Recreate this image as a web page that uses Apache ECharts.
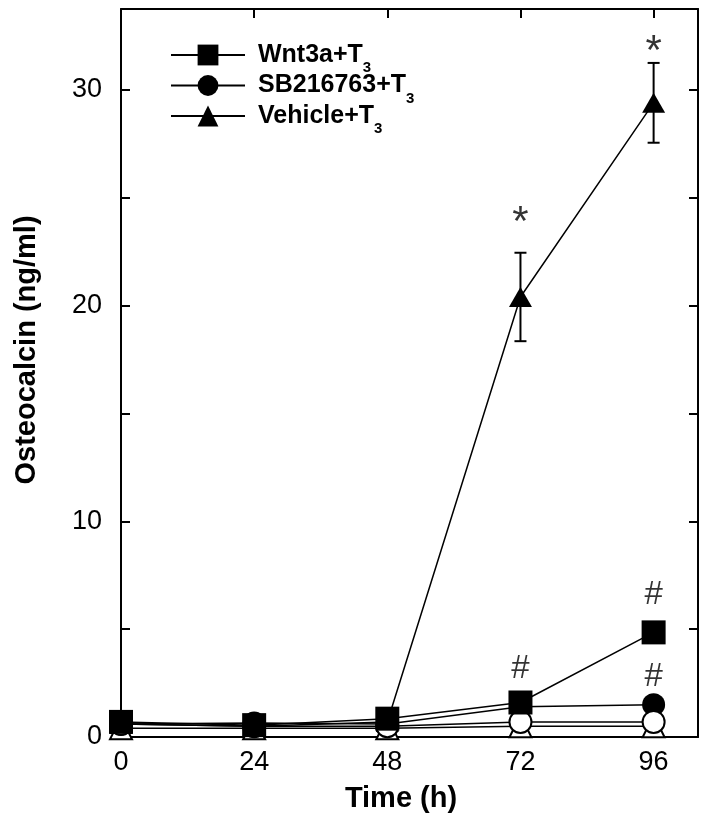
<!DOCTYPE html>
<html>
<head>
<meta charset="utf-8">
<script src="https://cdn.jsdelivr.net/npm/echarts@6/dist/echarts.min.js"></script>
<style>
html,body{margin:0;padding:0;background:#fff;}
#chart{width:708px;height:825px;}
</style>
</head>
<body>
<div id="chart"></div>
<script>
// ---- data ----
const times = [0, 24, 48, 72, 96];
const xTicks = [0, 24, 48, 72, 96];
const yTicks = [0, 10, 20, 30];
const seriesNames = ['Wnt3a+T3', 'SB216763+T3', 'Vehicle+T3'];
const wnt3aT3 = [0.7, 0.55, 0.85, 1.6, 4.85];
const sbT3 = [0.6, 0.65, 0.6, 1.4, 1.5];
const vehicleT3 = [0.6, 0.5, 0.7, 20.4, 29.4];
const vehicleT3Err = [0, 0, 0, 2.05, 1.85];
const openCircle = [0.6, 0.5, 0.5, 0.7, 0.7];
const openTriangle = [0.4, 0.4, 0.4, 0.5, 0.5];
const sigX = [72, 96, 72, 96, 96];
const sigY = [23.8, 31.75, 3.15, 6.57, 2.78];
const sigText = ['*', '*', '#', '#', '#'];

const FONT = 'Liberation Sans, Arial, sans-serif';
const pairs = arr => times.map((t, i) => [t, arr[i]]);

const chart = echarts.init(document.getElementById('chart'));

const axisCommon = {
  type: 'value',
  axisLine: { show: true, onZero: false, lineStyle: { color: '#000', width: 2 } },
  axisTick: { show: true, inside: true, length: 9, lineStyle: { color: '#000', width: 2 } },
  splitLine: { show: false }
};

const option = {
  backgroundColor: '#fff',
  animation: false,
  grid: { left: 121, right: 10, top: 9, bottom: 88 },
  legend: {
    data: seriesNames,
    orient: 'vertical',
    left: 170,
    top: 34.5,
    padding: 0,
    itemGap: -10.5,
    itemWidth: 74,
    itemHeight: 26,
    lineStyle: { width: 2 },
    formatter: name => '{a|' + name.slice(0, -1) + '}{s|' + name.slice(-1) + '}',
    textStyle: {
      color: '#000',
      fontFamily: FONT,
      fontWeight: 'bold',
      fontSize: 25,
      rich: {
        a: { fontFamily: FONT, fontWeight: 'bold', fontSize: 25, lineHeight: 37, color: '#000', padding: [0, 0, 0, 8] },
        s: { fontFamily: FONT, fontWeight: 'bold', fontSize: 15, lineHeight: 11, color: '#000', padding: [26, 0, 0, 0] }
      }
    }
  },
  xAxis: [
    Object.assign({}, axisCommon, {
      min: 0, max: 104, interval: 24, position: 'bottom',
      name: 'Time (h)', nameLocation: 'middle', nameGap: 47,
      nameTextStyle: { fontFamily: FONT, fontWeight: 'bold', fontSize: 29, color: '#000', padding: [0, 17, 0, 0] },
      axisLabel: {
        show: true, margin: 12, color: '#000', fontFamily: FONT, fontSize: 27,
        showMaxLabel: false,
        formatter: v => xTicks.includes(v) ? String(v) : ''
      }
    }),
    Object.assign({}, axisCommon, {
      min: 0, max: 104, interval: 24, position: 'top',
      axisLabel: { show: false }
    })
  ],
  yAxis: [
    Object.assign({}, axisCommon, {
      min: 0, max: 33.75, interval: 5, position: 'left',
      name: 'Osteocalcin (ng/ml)', nameLocation: 'middle', nameGap: 80,
      nameTextStyle: { fontFamily: FONT, fontWeight: 'bold', fontSize: 29, color: '#000', padding: [0, 0, 0, 46] },
      axisLabel: {
        show: true, margin: 19, color: '#000', fontFamily: FONT, fontSize: 27,
        showMaxLabel: false,
        formatter: v => yTicks.includes(v) ? String(v) : ''
      }
    }),
    Object.assign({}, axisCommon, {
      min: 0, max: 33.75, interval: 5, position: 'right',
      axisLabel: { show: false }
    })
  ],
  series: [
    {
      type: 'custom',
      name: 'errVehicle',
      clip: false,
      renderItem: function (params, api) {
        const x = api.value(0), y = api.value(1), e = api.value(2);
        const top = api.coord([x, y + e]);
        const bot = api.coord([x, y - e]);
        const cap = 6;
        const st = { stroke: '#000', lineWidth: 2 };
        return {
          type: 'group',
          children: [
            { type: 'line', shape: { x1: top[0], y1: top[1], x2: bot[0], y2: bot[1] }, style: st },
            { type: 'line', shape: { x1: top[0] - cap, y1: top[1], x2: top[0] + cap, y2: top[1] }, style: st },
            { type: 'line', shape: { x1: bot[0] - cap, y1: bot[1], x2: bot[0] + cap, y2: bot[1] }, style: st }
          ]
        };
      },
      data: times.map((t, i) => [t, vehicleT3[i], vehicleT3Err[i]]).filter(d => d[2] > 0)
    },
    {
      type: 'line', name: 'Vehicle+T3', data: pairs(vehicleT3), clip: false,
      symbol: 'triangle', symbolSize: [23, 20],
      lineStyle: { color: '#000', width: 1.5 },
      itemStyle: { color: '#000', borderWidth: 0 }
    },
    {
      type: 'line', name: 'Vehicle', data: pairs(openTriangle), clip: false,
      symbol: 'triangle', symbolSize: [22, 22],
      lineStyle: { color: '#000', width: 1.5 },
      itemStyle: { color: '#fff', borderColor: '#000', borderWidth: 2 }
    },
    {
      type: 'line', name: 'SB216763+T3', data: pairs(sbT3), clip: false,
      symbol: 'circle', symbolSize: 23,
      lineStyle: { color: '#000', width: 1.5 },
      itemStyle: { color: '#000', borderWidth: 0 }
    },
    {
      type: 'line', name: 'SB216763', data: pairs(openCircle), clip: false,
      symbol: 'circle', symbolSize: 22,
      lineStyle: { color: '#000', width: 1.5 },
      itemStyle: { color: '#fff', borderColor: '#000', borderWidth: 2 }
    },
    {
      type: 'line', name: 'Wnt3a+T3', data: pairs(wnt3aT3), clip: false,
      symbol: 'rect', symbolSize: 24,
      lineStyle: { color: '#000', width: 1.5 },
      itemStyle: { color: '#000', borderWidth: 0 }
    },
    {
      type: 'scatter', name: 'sig', clip: false,
      data: sigX.map((x, i) => [x, sigY[i]]),
      symbolSize: 1,
      itemStyle: { color: 'rgba(0,0,0,0)' },
      label: {
        show: true, position: 'inside', color: '#000', fontFamily: FONT,
        formatter: p => (sigText[p.dataIndex] === '*' ? '{st|*}' : '{h|#}'),
        rich: {
          st: { fontFamily: FONT, fontSize: 42, color: '#000' },
          h: { fontFamily: FONT, fontSize: 33, color: '#000' }
        }
      },
      silent: true
    }
  ]
};
chart.setOption(option);
</script>
</body>
</html>
